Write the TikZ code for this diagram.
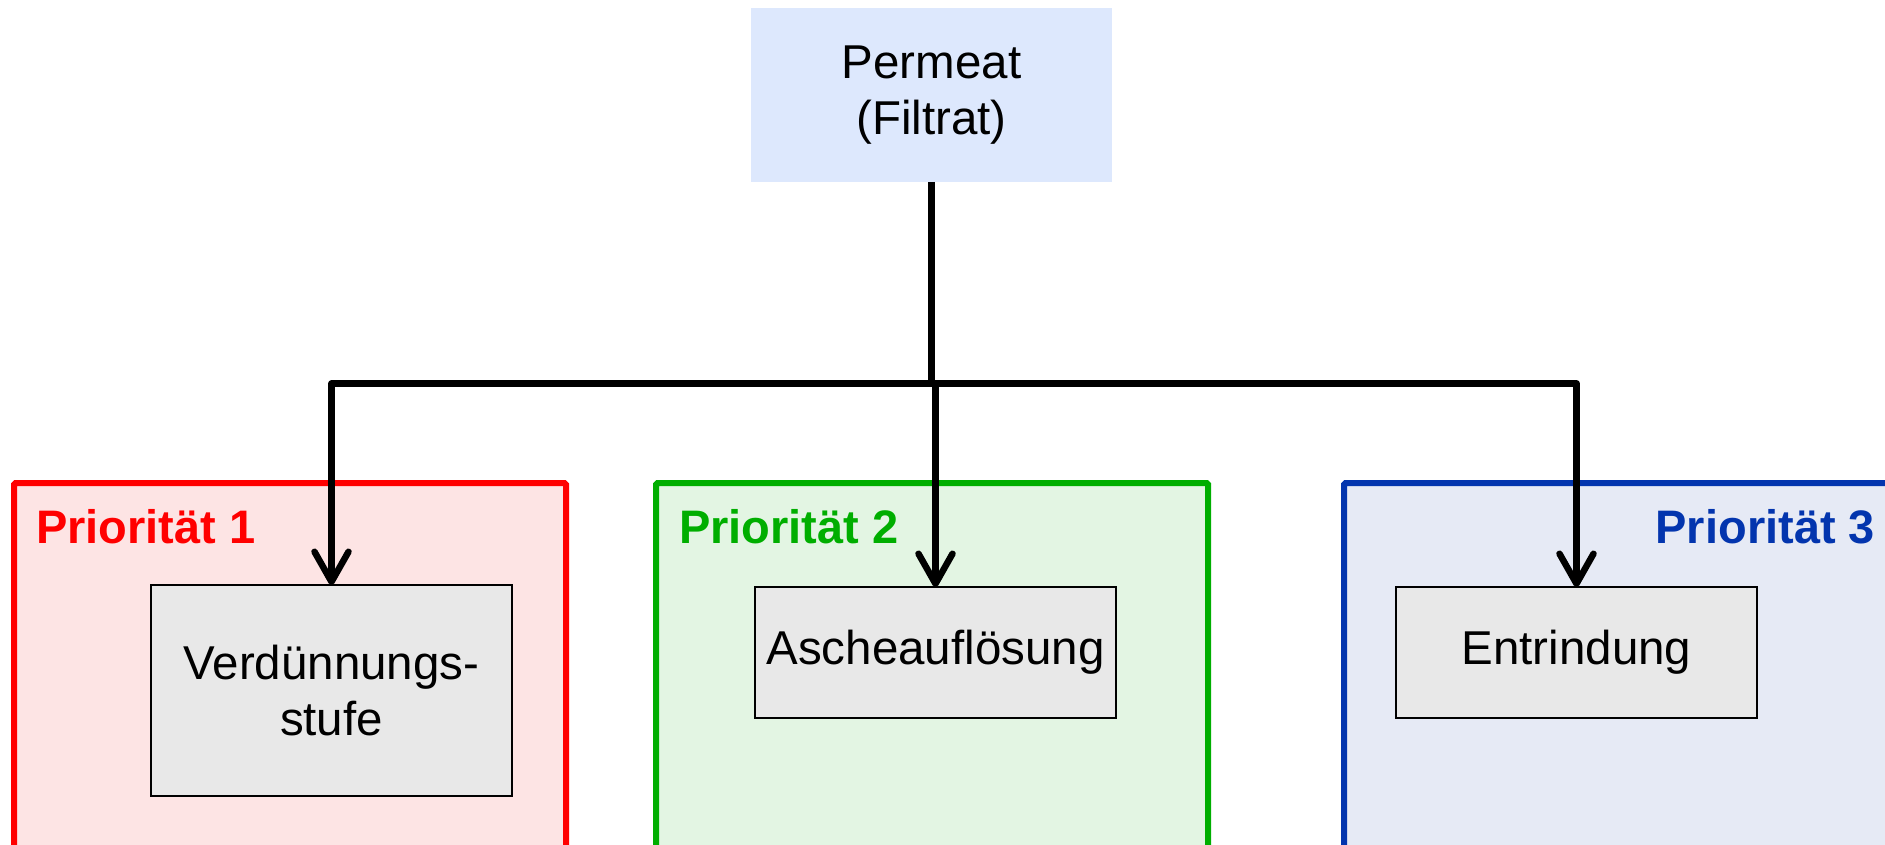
\documentclass[tikz,border=0pt]{standalone}
\usepackage{fontspec}
\setmainfont{Liberation Sans}
\usetikzlibrary{arrows.meta}

\definecolor{prired}{HTML}{FF0000}
\definecolor{prired bg}{HTML}{FDE4E4}
\definecolor{prigreen}{HTML}{00AE00}
\definecolor{prigreen bg}{HTML}{E3F5E3}
\definecolor{priblue}{HTML}{0335AE}
\definecolor{priblue bg}{HTML}{E6EAF5}
\definecolor{permeat bg}{HTML}{DDE8FD}
\definecolor{stage bg}{HTML}{E8E8E8}

\begin{document}
\begin{tikzpicture}[
  x=1pt, y=-1pt,
  every node/.style={inner sep=0pt, outer sep=0pt},
  bodytext/.style={font=\fontsize{47.5}{56}\selectfont, align=center},
  source/.style={bodytext, fill=permeat bg, minimum width=361pt, minimum height=174pt},
  stagebox/.style={bodytext, draw=black, line width=2.5pt, fill=stage bg, minimum width=361pt},
  prioframe/.style={line width=6pt, rounded corners=1.5pt},
  priolabel/.style={font=\fontsize{47}{56}\selectfont\bfseries},
  flow/.style={line width=6.5pt, line join=round, -{Straight Barb[length=30pt, width=34pt, round]}},
  trunk/.style={line width=6.5pt, line cap=butt}
]
  % canvas
  \useasboundingbox (0,0) rectangle (1885,845);
  \clip (0,0) rectangle (1885,845);

  % priority frames (cut off at the lower edge)
  \draw[prioframe, draw=prired, fill=prired bg] (14,483) rectangle (566,880);
  \draw[prioframe, draw=prigreen, fill=prigreen bg] (656,483) rectangle (1208,880);
  \draw[prioframe, draw=priblue, fill=priblue bg] (1344,483) rectangle (1920,880);

  % frame titles
  \node[priolabel, text=prired, anchor=base west] (l1) at (36,543) {Priorität 1};
  \node[priolabel, text=prigreen, anchor=base west] (l2) at (679,543) {Priorität 2};
  \node[priolabel, text=priblue, anchor=base east] (l3) at (1875,543) {Priorität 3};

  % source and treatment stages
  \node[source] (perm) at (931.5,95) {Permeat\\(Filtrat)};
  \node[stagebox, minimum height=211pt] (verd) at (331.5,690.5) {Verdünnungs-\\stufe};
  \node[stagebox, minimum height=131pt] (asche) at (935.5,652.5) {Ascheauflösung};
  \node[stagebox, minimum height=131pt] (entr) at (1576.5,652.5) {Entrindung};

  % branching connectors
  \coordinate (split) at (931.5,383.5);
  \draw[trunk] (perm.south) -- (split);
  \draw[flow] (split) -| (verd.north);
  \draw[flow] (split) -| (asche.north);
  \draw[flow] (split) -| (entr.north);
\end{tikzpicture}
\end{document}
